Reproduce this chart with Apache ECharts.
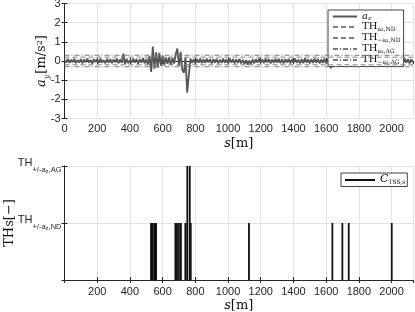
<!DOCTYPE html>
<html><head><meta charset="utf-8">
<script src="https://cdn.jsdelivr.net/npm/echarts@6/dist/echarts.min.js"></script>
<style>html,body{margin:0;padding:0;background:#fff}#c{width:415px;height:312px}</style>
</head><body><div id="c"></div>
<script>
// ---- data ----
const sStep = 10; // sampling interval of the trace [m]
const az = [
0.04,-0.09,0.11,-0.1,0.07,-0.06,0.12,-0.11,0.05,-0.08,
0.1,-0.12,0.08,-0.07,0.13,-0.09,0.06,-0.14,0.1,-0.06,
0.09,-0.1,0.12,-0.08,0.05,-0.12,0.11,-0.09,0.1,-0.11,
0.08,-0.07,0.13,-0.12,0.09,-0.1,0.38,-0.16,0.11,-0.12,
0.06,-0.1,0.12,-0.09,0.1,-0.14,0.09,-0.08,0.15,-0.12,
0.1,-0.18,0.25,-0.57,0.75,-0.4,0.45,-0.35,0.42,-0.25,
0.28,-0.22,0.2,-0.15,0.18,-0.2,0.15,-0.14,0.35,0.65,
-0.25,0.48,-0.45,-0.62,0.2,-1.65,-0.75,0.12,-0.1,0.08,
-0.12,0.1,-0.09,0.13,-0.11,0.08,-0.1,0.12,-0.07,0.09,
-0.12,0.1,-0.08,0.11,-0.13,0.07,-0.1,0.12,-0.09,0.08,
-0.11,0.13,-0.08,0.1,-0.12,0.09,-0.1,0.11,-0.13,0.06,
-0.15,0.05,-0.2,0.02,-0.16,0.08,-0.12,0.1,-0.09,0.12,
-0.1,0.08,-0.11,0.13,-0.07,0.1,-0.12,0.09,-0.1,0.11,
-0.08,0.12,-0.11,0.09,-0.13,0.1,-0.07,0.11,-0.12,0.08,
-0.1,0.13,-0.09,0.07,-0.12,0.1,-0.11,0.14,-0.08,0.09,
-0.12,0.1,-0.1,0.12,-0.09,0.11,-0.13,0.08,-0.1,0.12,
-0.11,0.09,-0.14,-0.38,0.12,-0.1,0.11,-0.12,0.08,-0.09,
0.13,-0.1,0.09,-0.12,0.1,-0.08,0.12,-0.11,0.07,-0.1,
0.11,-0.13,0.09,-0.1,0.12,-0.08,0.1,-0.12,0.13,-0.09,
0.08,-0.11,0.12,-0.1,0.09,-0.13,0.11,-0.08,0.1,-0.12,
0.13,-0.09,0.1,-0.11,0.08,-0.12,0.11,-0.1,0.12,-0.08,
0.1,-0.12,0.09,-0.07
];
const thND = 0.2;
const thAG = 0.3;
const sMax = 2131;
const eventS = [529,539,551,560,678,688,700,712,739,751,766,772,1128,1638,1699,1738,2001];
const eventLevel = [1,1,1,1,1,1,1,1,1,2,2,1,1,1,1,1,1];
const levelLabels = ['', '{m|TH}{s|+/-a}{z|z}{s|,ND}', '{m|TH}{s|+/-a}{z|z}{s|,AG}'];

// ---- build ----
const trace = az.map((v,i)=>[i*sStep, v]);
const hline = v => [[0, v],[sMax, v]];
const ctss = [];
eventS.forEach((s,i)=>{ ctss.push([s,0],[s,eventLevel[i]],[s,'-']); });

const sans = 'Liberation Sans';
const serif = 'DejaVu Serif';
const tickCol = '#262626';
const gridCol = '#e3e3e3';
const L = 64.5, R = 2;

function xAx(gi, showMin, gap, margin){
  return {type:'value', gridIndex:gi, min:0, max:sMax, interval:200,
    axisLine:{lineStyle:{color:tickCol,width:1}},
    axisTick:{inside:true,length:3,lineStyle:{color:tickCol}},
    axisLabel:{color:tickCol,fontFamily:sans,fontSize:11,margin:margin,showMinLabel:showMin,showMaxLabel:false,formatter:v=>String(v)},
    splitLine:{show:true,lineStyle:{color:gridCol,width:1}},
    name:'{i|s}{n|[m]}', nameLocation:'middle', nameGap:gap, nameMoveOverlap:false,
    nameTextStyle:{rich:{i:{fontFamily:serif,fontStyle:'italic',fontSize:13,color:'#111'},n:{fontFamily:serif,fontSize:13,color:'#111'}}}
  };
}
function xTop(gi){
  return {type:'value', gridIndex:gi, position:'top', min:0, max:sMax, interval:200,
    axisLine:{lineStyle:{color:tickCol}}, axisTick:{inside:true,length:3,lineStyle:{color:tickCol}},
    axisLabel:{show:false}, splitLine:{show:false}};
}
function yRight(gi,min,max,itv){
  return {type:'value', gridIndex:gi, position:'right', min, max, interval:itv,
    axisLine:{show:true,lineStyle:{color:tickCol}}, axisTick:{show:true,inside:true,length:3,lineStyle:{color:tickCol}},
    axisLabel:{show:false}, splitLine:{show:false}};
}

const option = {
  animation:false,
  backgroundColor:'#fff',
  grid:[
    {left:L, right:R, top:3.5, height:115, outerBoundsMode:'none'},
    {left:L, right:R, top:166, height:114, outerBoundsMode:'none'}
  ],
  xAxis:[ xAx(0,true,19,5), xAx(1,false,19,6), xTop(0), xTop(1) ],
  yAxis:[
    {type:'value', gridIndex:0, min:-3, max:3, interval:1,
     axisLine:{show:true,lineStyle:{color:tickCol}},
     axisTick:{show:true,inside:true,length:3,lineStyle:{color:tickCol}},
     axisLabel:{color:tickCol,fontFamily:sans,fontSize:11,margin:4},
     splitLine:{show:true,lineStyle:{color:gridCol}},
     name:'{i|a}{y|y}{n|[m/s}{p|2}{n|]}', nameLocation:'middle', nameGap:13, nameRotate:90, nameMoveOverlap:false,
     nameTextStyle:{rich:{
       i:{fontFamily:serif,fontStyle:'italic',fontSize:13,color:'#111',verticalAlign:'top',lineHeight:16},
       y:{fontFamily:serif,fontStyle:'italic',fontSize:8,lineHeight:8,color:'#111',padding:[7,1,0,0]},
       n:{fontFamily:serif,fontSize:13,color:'#111',verticalAlign:'top',lineHeight:16},
       p:{fontFamily:serif,fontSize:8,color:'#111',verticalAlign:'top',lineHeight:8}
     }}},
    {type:'value', gridIndex:1, min:0, max:2, interval:1,
     axisLine:{show:true,lineStyle:{color:tickCol}},
     axisTick:{show:true,inside:true,length:3,lineStyle:{color:tickCol}},
     axisLabel:{color:tickCol,margin:3,formatter:v=>levelLabels[v]||'',
       rich:{
         m:{fontFamily:sans,fontSize:11,color:tickCol,verticalAlign:'top',lineHeight:12},
         s:{fontFamily:sans,fontSize:7.5,color:tickCol,padding:[7,0,0,0]},
         z:{fontFamily:sans,fontSize:6,color:tickCol,padding:[11,0,0,0]}
       }},
     splitLine:{show:true,lineStyle:{color:gridCol}},
     name:'{n|THs[−]}', nameLocation:'middle', nameGap:48, nameRotate:90, nameMoveOverlap:false,
     nameTextStyle:{rich:{n:{fontFamily:serif,fontSize:13,color:'#111'}}}},
    yRight(0,-3,3,1), yRight(1,0,2,1)
  ],
  legend:[
    {left:328, top:10, orient:'vertical', itemWidth:24, itemHeight:9, itemGap:0,
     padding:[1,3,1,4], backgroundColor:'#fff', borderColor:'#444', borderWidth:1, borderRadius:0,
     itemStyle:{opacity:0},
     data:['az','thNDp','thNDn','thAGp','thAGn'],
     formatter: n => ({az:'{i|a}{s|z}', thNDp:'{t|TH}{s|a}{z|z}{s|,ND}', thNDn:'{t|TH}{s|−a}{z|z}{s|,ND}',
        thAGp:'{t|TH}{s|a}{z|z}{s|,AG}', thAGn:'{t|TH}{s|−a}{z|z}{s|,AG}'})[n],
     textStyle:{rich:{
       i:{fontFamily:serif,fontStyle:'italic',fontSize:10,color:'#111',verticalAlign:'top',lineHeight:11},
       t:{fontFamily:serif,fontSize:10,color:'#111',verticalAlign:'top',lineHeight:11},
       s:{fontFamily:serif,fontSize:6,lineHeight:6,color:'#111',padding:[4,0,0,0]},
       z:{fontFamily:serif,fontSize:5,lineHeight:5,color:'#111',padding:[6,0,0,0]}
     }}},
    {left:341, top:173, orient:'vertical', itemWidth:30, itemHeight:10,
     padding:[1,2,1,3], backgroundColor:'#fff', borderColor:'#444', borderWidth:1, borderRadius:0,
     itemStyle:{opacity:0},
     data:['ctss'],
     formatter:()=>'{i|C}{s|TSS,s}',
     textStyle:{rich:{
       i:{fontFamily:serif,fontStyle:'italic',fontSize:11,color:'#111',verticalAlign:'top',lineHeight:12},
       s:{fontFamily:serif,fontSize:6,lineHeight:6,color:'#111',padding:[5,0,0,0]}
     }}}
  ],
  series:[
    {name:'az', type:'line', xAxisIndex:0, yAxisIndex:0, data:trace, symbol:'none',
     lineStyle:{color:'#555',width:1.8}, itemStyle:{color:'#555'}, z:3},
    {name:'thNDp', type:'line', xAxisIndex:0, yAxisIndex:0, data:hline(thND), symbol:'none',
     lineStyle:{color:'#808080',width:1,type:[5,3]}, itemStyle:{color:'#808080'}, z:4},
    {name:'thNDn', type:'line', xAxisIndex:0, yAxisIndex:0, data:hline(-thND), symbol:'none',
     lineStyle:{color:'#808080',width:1,type:[5,3]}, itemStyle:{color:'#808080'}, z:4},
    {name:'thAGp', type:'line', xAxisIndex:0, yAxisIndex:0, data:hline(thAG), symbol:'none',
     lineStyle:{color:'#7a7a7a',width:1,type:[5,2,1,2]}, itemStyle:{color:'#7a7a7a'}, z:4},
    {name:'thAGn', type:'line', xAxisIndex:0, yAxisIndex:0, data:hline(-thAG), symbol:'none',
     lineStyle:{color:'#7a7a7a',width:1,type:[5,2,1,2]}, itemStyle:{color:'#7a7a7a'}, z:4},
    {name:'ctss', type:'line', xAxisIndex:1, yAxisIndex:1, data:ctss, symbol:'none', connectNulls:false,
     lineStyle:{color:'#111',width:1.8}, itemStyle:{color:'#111'}, z:3}
  ]
};
const chart = echarts.init(document.getElementById('c'), null, {renderer:'canvas'});
chart.setOption(option);
</script></body></html>
